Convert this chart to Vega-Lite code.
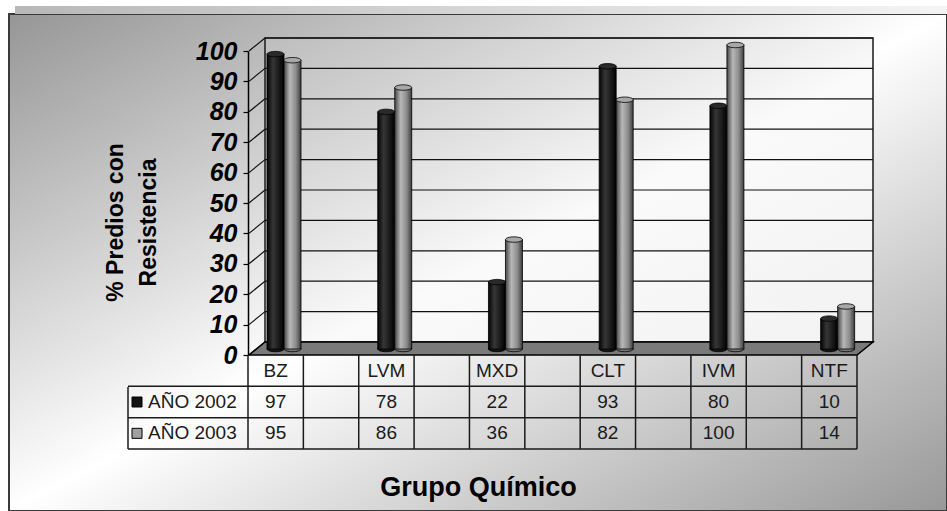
{
"$schema":"https://vega.github.io/schema/vega-lite/v6.json",
"width":938,"height":497,
"autosize":{"type":"none"},
"padding":{"left":9,"top":14,"right":0,"bottom":0},
"background":"#ffffff",
"config":{
 "font":"Liberation Sans",
 "view":{"fill":{"gradient":"linear","x1":0,"y1":0,"x2":1,"y2":1,"stops":[{"offset":0,"color":"#969696"},{"offset":0.5,"color":"#ffffff"},{"offset":1,"color":"#989898"}]},"stroke":"#3a3a3a","strokeWidth":2},
 "axisX":{"labels":false,"ticks":false,"domain":false,"grid":false,"titleX":469,"titleY":-24,"titleFontSize":27,"titleFontWeight":"bold","titleColor":"#000000","titleBaseline":"middle","titleAlign":"center","titleFont":"Liberation Sans"},
 "axisY":{"grid":false,"domainColor":"#000000","domainWidth":1.5,"tickColor":"#000000","tickWidth":1.2,"tickSize":5,"labelFont":"Liberation Sans","labelFontSize":25,"labelFontWeight":"bold","labelFontStyle":"italic","labelColor":"#000000","labelPadding":6,"labelFlush":false,"labelOverlap":false,"labelBound":false,"titleFont":"Liberation Sans","titleFontSize":23,"titleFontWeight":"bold","titleColor":"#000000","titleAngle":270,"titleAlign":"center","titleBaseline":"middle","titleLineHeight":33}
},
"datasets":{
 "datos":[
  {"grupo":"BZ","serie":"AÑO 2002","pct":97},{"grupo":"BZ","serie":"AÑO 2003","pct":95},
  {"grupo":"LVM","serie":"AÑO 2002","pct":78},{"grupo":"LVM","serie":"AÑO 2003","pct":86},
  {"grupo":"MXD","serie":"AÑO 2002","pct":22},{"grupo":"MXD","serie":"AÑO 2003","pct":36},
  {"grupo":"CLT","serie":"AÑO 2002","pct":93},{"grupo":"CLT","serie":"AÑO 2003","pct":82},
  {"grupo":"IVM","serie":"AÑO 2002","pct":80},{"grupo":"IVM","serie":"AÑO 2003","pct":100},
  {"grupo":"NTF","serie":"AÑO 2002","pct":10},{"grupo":"NTF","serie":"AÑO 2003","pct":14}
 ],
 "columnas":[{"grupo":"BZ","nombre":"BZ"},{"grupo":"g1","nombre":""},{"grupo":"LVM","nombre":"LVM"},{"grupo":"g2","nombre":""},{"grupo":"MXD","nombre":"MXD"},{"grupo":"g3","nombre":""},{"grupo":"CLT","nombre":"CLT"},{"grupo":"g4","nombre":""},{"grupo":"IVM","nombre":"IVM"},{"grupo":"g5","nombre":""},{"grupo":"NTF","nombre":"NTF"}],
 "escala":[{"v":0},{"v":10},{"v":20},{"v":30},{"v":40},{"v":50},{"v":60},{"v":70},{"v":80},{"v":90},{"v":100}],
 "series":[{"serie":"AÑO 2002"},{"serie":"AÑO 2003"}]
},
"layer":[
 {"layer":[
  {"data":{"values":[{}]},"mark":{"type":"rect","strokeWidth":0,"fill":{"gradient":"linear","x1":0,"y1":0,"x2":1,"y2":0,"stops":[{"offset":0,"color":"#b8b8b8"},{"offset":1,"color":"#f4f4f4"}]}},
   "encoding":{"x":{"value":6},"x2":{"value":938},"y":{"value":-8},"y2":{"value":0}}},
  {"data":{"values":[{}]},"mark":{"type":"rect","stroke":"#1a1a1a","strokeWidth":1.5,"fill":{"gradient":"linear","x1":0,"y1":0,"x2":1,"y2":1,"stops":[{"offset":0,"color":"#bdbdbd"},{"offset":0.55,"color":"#fafafa"},{"offset":1,"color":"#f2f2f2"}]}},
   "encoding":{"x":{"value":256},"x2":{"value":864},"y":{"value":24},"y2":{"value":328}}},
  {"data":{"name":"escala"},"mark":{"type":"rule","color":"#111111","strokeWidth":1.2,"yOffset":-13},
   "encoding":{"x":{"value":256},"x2":{"value":864},"y":{"field":"v","type":"quantitative","scale":{"domain":[0,100],"range":[341,37],"nice":false,"zero":false}}}},
  {"data":{"name":"escala"},"mark":{"type":"rule","color":"#111111","strokeWidth":1.2,"y2Offset":-13},
   "encoding":{"x":{"value":240},"x2":{"value":256},"y":{"field":"v","type":"quantitative","scale":{"domain":[0,100],"range":[341,37],"nice":false,"zero":false}},"y2":{"field":"v"}}},
  {"data":{"values":[{}]},"mark":{"type":"point","shape":"M -1 0.0208 L 0.9487 0.0208 L 1 -0.0208 L -0.9487 -0.0208 Z","size":389376,"filled":true,"opacity":1,"fill":"#7a7a7a","stroke":"#000000","strokeWidth":1.5,"yOffset":-6.5},
   "encoding":{"x":{"value":552},"y":{"datum":0,"type":"quantitative","scale":{"domain":[0,100],"range":[341,37],"nice":false,"zero":false}}}},
  {"data":{"name":"datos"},"mark":{"type":"point","shape":"M -1 0 A 1 0.32 0 1 1 1 0 A 1 0.32 0 1 1 -1 0 Z","size":289,"filled":true,"opacity":1,"stroke":"#000000","strokeWidth":0.8,"yOffset":-6},
   "encoding":{
    "x":{"field":"grupo","type":"nominal","scale":{"type":"band","domain":["BZ","g1","LVM","g2","MXD","g3","CLT","g4","IVM","g5","NTF"],"range":[239,848],"paddingInner":0,"paddingOuter":0}},
    "xOffset":{"field":"serie","type":"nominal","scale":{"type":"band","domain":["AÑO 2002","AÑO 2003"],"range":[19,53],"paddingInner":0,"paddingOuter":0}},
    "y":{"datum":0,"type":"quantitative","scale":{"domain":[0,100],"range":[341,37],"nice":false,"zero":false}},
    "fill":{"condition":{"test":"datum.serie === 'AÑO 2002'","value":"#151515"},"value":"#777777"}}},
  {"data":{"name":"datos"},"mark":{"type":"bar","stroke":"#000000","strokeWidth":0.8,"yOffset":-6,"y2Offset":-6},
   "encoding":{
    "x":{"field":"grupo","type":"nominal","scale":{"type":"band","domain":["BZ","g1","LVM","g2","MXD","g3","CLT","g4","IVM","g5","NTF"],"range":[239,848],"paddingInner":0,"paddingOuter":0},"axis":{"title":"Grupo Químico"}},
    "xOffset":{"field":"serie","type":"nominal","scale":{"type":"band","domain":["AÑO 2002","AÑO 2003"],"range":[19,53],"paddingInner":0,"paddingOuter":0}},
    "y":{"field":"pct","type":"quantitative","scale":{"domain":[0,100],"range":[341,37],"nice":false,"zero":false},
      "axis":{"title":["% Predios con","Resistencia"],"offset":-239,"values":[0,10,20,30,40,50,60,70,80,90,100],"titleX":-133,"titleY":208}},
    "fill":{"condition":{"test":"datum.serie === 'AÑO 2002'","value":{"gradient":"linear","x1":0,"y1":0,"x2":1,"y2":0,"stops":[{"offset":0,"color":"#050505"},{"offset":0.35,"color":"#363636"},{"offset":0.7,"color":"#1a1a1a"},{"offset":1,"color":"#000000"}]}},
      "value":{"gradient":"linear","x1":0,"y1":0,"x2":1,"y2":0,"stops":[{"offset":0,"color":"#444444"},{"offset":0.35,"color":"#b8b8b8"},{"offset":0.7,"color":"#8c8c8c"},{"offset":1,"color":"#3c3c3c"}]}}}},
  {"data":{"name":"datos"},"mark":{"type":"point","shape":"M -1 0 A 1 0.32 0 1 1 1 0 A 1 0.32 0 1 1 -1 0 Z","size":289,"filled":true,"opacity":1,"stroke":"#000000","strokeWidth":0.8,"yOffset":-6},
   "encoding":{
    "x":{"field":"grupo","type":"nominal","scale":{"type":"band","domain":["BZ","g1","LVM","g2","MXD","g3","CLT","g4","IVM","g5","NTF"],"range":[239,848],"paddingInner":0,"paddingOuter":0}},
    "xOffset":{"field":"serie","type":"nominal","scale":{"type":"band","domain":["AÑO 2002","AÑO 2003"],"range":[19,53],"paddingInner":0,"paddingOuter":0}},
    "y":{"field":"pct","type":"quantitative","scale":{"domain":[0,100],"range":[341,37],"nice":false,"zero":false}},
    "fill":{"condition":{"test":"datum.serie === 'AÑO 2002'","value":"#2a2a2a"},"value":"#a8a8a8"}}}
 ]},
 {"layer":[
  {"data":{"name":"columnas"},"mark":{"type":"rule","color":"#1a1a1a","strokeWidth":1.5},
   "encoding":{"x":{"field":"grupo","type":"nominal","bandPosition":0,"scale":{"type":"band","domain":["BZ","g1","LVM","g2","MXD","g3","CLT","g4","IVM","g5","NTF"],"range":[239,848],"paddingInner":0,"paddingOuter":0}},"y":{"value":341},"y2":{"value":435}}},
  {"data":{"name":"columnas"},"transform":[{"filter":"datum.grupo === 'NTF'"}],"mark":{"type":"rule","color":"#1a1a1a","strokeWidth":1.5},
   "encoding":{"x":{"field":"grupo","type":"nominal","bandPosition":1,"scale":{"type":"band","domain":["BZ","g1","LVM","g2","MXD","g3","CLT","g4","IVM","g5","NTF"],"range":[239,848],"paddingInner":0,"paddingOuter":0}},"y":{"value":341},"y2":{"value":435}}},
  {"data":{"values":[{}]},"mark":{"type":"rule","color":"#1a1a1a","strokeWidth":1.5},
   "encoding":{"x":{"value":119},"y":{"value":373},"y2":{"value":435}}},
  {"data":{"name":"series"},"mark":{"type":"rule","color":"#1a1a1a","strokeWidth":1.5},
   "encoding":{"x":{"value":119},"x2":{"value":848},"y":{"field":"serie","type":"nominal","bandPosition":0,"scale":{"type":"band","domain":["hdr","AÑO 2002","AÑO 2003"],"range":[341,435],"paddingInner":0,"paddingOuter":0},"axis":null}}},
  {"data":{"name":"series"},"transform":[{"filter":"datum.serie === 'AÑO 2003'"}],"mark":{"type":"rule","color":"#1a1a1a","strokeWidth":1.5},
   "encoding":{"x":{"value":119},"x2":{"value":848},"y":{"field":"serie","type":"nominal","bandPosition":1,"scale":{"type":"band","domain":["hdr","AÑO 2002","AÑO 2003"],"range":[341,435],"paddingInner":0,"paddingOuter":0},"axis":null}}},
  {"data":{"name":"columnas"},"mark":{"type":"text","fontSize":19,"color":"#1a1a1a","font":"Liberation Sans"},
   "encoding":{"x":{"field":"grupo","type":"nominal","scale":{"type":"band","domain":["BZ","g1","LVM","g2","MXD","g3","CLT","g4","IVM","g5","NTF"],"range":[239,848],"paddingInner":0,"paddingOuter":0}},
    "y":{"datum":"hdr","type":"nominal","scale":{"type":"band","domain":["hdr","AÑO 2002","AÑO 2003"],"range":[341,435],"paddingInner":0,"paddingOuter":0},"axis":null},
    "text":{"field":"nombre"}}},
  {"data":{"name":"datos"},"mark":{"type":"text","fontSize":19,"color":"#1a1a1a","font":"Liberation Sans"},
   "encoding":{"x":{"field":"grupo","type":"nominal","scale":{"type":"band","domain":["BZ","g1","LVM","g2","MXD","g3","CLT","g4","IVM","g5","NTF"],"range":[239,848],"paddingInner":0,"paddingOuter":0}},
    "y":{"field":"serie","type":"nominal","scale":{"type":"band","domain":["hdr","AÑO 2002","AÑO 2003"],"range":[341,435],"paddingInner":0,"paddingOuter":0},"axis":null},
    "text":{"field":"pct","type":"quantitative"}}},
  {"data":{"name":"series"},"mark":{"type":"text","fontSize":19,"color":"#1a1a1a","font":"Liberation Sans","align":"left"},
   "encoding":{"x":{"value":139},
    "y":{"field":"serie","type":"nominal","scale":{"type":"band","domain":["hdr","AÑO 2002","AÑO 2003"],"range":[341,435],"paddingInner":0,"paddingOuter":0},"axis":null},
    "text":{"field":"serie"}}},
  {"data":{"name":"series"},"mark":{"type":"point","shape":"square","size":100,"filled":true,"opacity":1,"stroke":"#000000","strokeWidth":1},
   "encoding":{"x":{"value":128},
    "y":{"field":"serie","type":"nominal","scale":{"type":"band","domain":["hdr","AÑO 2002","AÑO 2003"],"range":[341,435],"paddingInner":0,"paddingOuter":0},"axis":null},
    "fill":{"condition":{"test":"datum.serie === 'AÑO 2002'","value":"#111111"},"value":"#a0a0a0"}}}
 ]}
],
"resolve":{"scale":{"y":"independent"},"axis":{"y":"independent"}}
}
